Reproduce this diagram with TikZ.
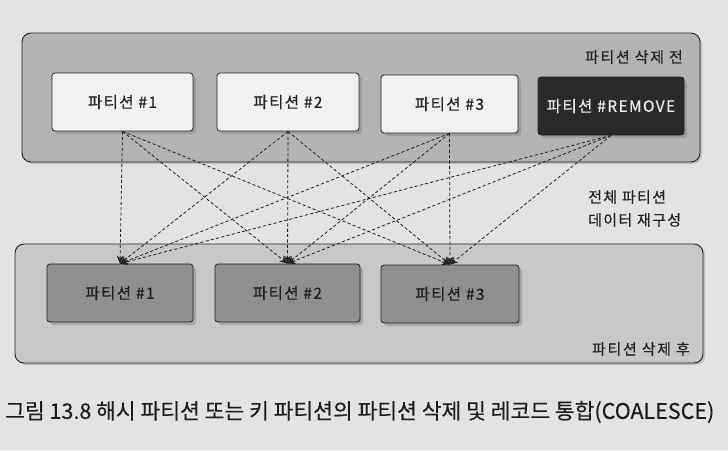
\documentclass[tikz,border=0pt]{standalone}
\usepackage{fontspec}
\setmainfont{Noto Sans CJK KR}
\usetikzlibrary{arrows.meta,shadows}
\definecolor{paper}{HTML}{E3E3E1}
\definecolor{outerA}{HTML}{B3B3B2}
\definecolor{outerB}{HTML}{C8C8C7}
\definecolor{innerA}{HTML}{F1F1F0}
\definecolor{innerRem}{HTML}{2A2A2A}
\definecolor{innerB}{HTML}{8F8F8E}
\definecolor{ink}{HTML}{222222}
\tikzset{
  grp/.style={draw=ink, line width=0.9pt, rounded corners=9pt,
    drop shadow={opacity=0.35, shadow xshift=2pt, shadow yshift=-2pt}},
  partbox/.style={draw=ink, line width=0.8pt, rounded corners=3pt,
    minimum height=58pt, inner sep=0pt,
    font=\fontsize{15.5}{18}\selectfont\addfontfeature{LetterSpace=9,FakeBold=0.5},
    drop shadow={opacity=0.45, shadow xshift=3pt, shadow yshift=-3pt}},
  topbox/.style={partbox, fill=innerA, text=ink},
  rembox/.style={partbox, fill=innerRem, text=white!92!black},
  botbox/.style={partbox, fill=innerB, text=ink!90!black},
  lbl/.style={font=\fontsize{15}{18}\selectfont\addfontfeature{LetterSpace=11,FakeBold=0.4}, text=ink, inner sep=0pt},
  link/.style={draw=ink, line width=0.8pt, dash pattern=on 3.2pt off 2.2pt,
    -{Stealth[length=8pt,width=7pt]}}
}
\begin{document}
\begin{tikzpicture}[x=1pt,y=-1pt]
\fill[paper] (0,0) rectangle (728,450);
\useasboundingbox (0,0) rectangle (728,450);
% groups
\path[grp, fill=outerA] (22,33) rectangle (700,162);
\path[grp, fill=outerB] (15,244) rectangle (703,363);
% top partitions
\node[topbox, minimum width=141pt] (t1) at (122.5,102) {파티션 \#1};
\node[topbox, minimum width=142pt] (t2) at (288,102) {파티션 \#2};
\node[topbox, minimum width=137pt] (t3) at (449.5,104) {파티션 \#3};
\node[rembox, minimum width=146pt] (t4) at (611,106) {파티션 \#REMOVE};
% bottom partitions
\node[botbox, minimum width=146pt] (b1) at (120,293) {파티션 \#1};
\node[botbox, minimum width=145pt] (b2) at (287.5,293) {파티션 \#2};
\node[botbox, minimum width=138pt] (b3) at (450,294) {파티션 \#3};
% labels
\node[lbl, anchor=east] (ltop) at (683,57) {파티션 삭제 전};
\node[lbl, anchor=east] (lbot) at (690,349) {파티션 삭제 후};
\node[lbl, anchor=north west, align=left, font=\fontsize{15}{23}\selectfont\addfontfeature{LetterSpace=9,FakeBold=0.4}] (lmid) at (588,190) {전체 파티션\\데이터 재구성};
% connectors
\foreach \s in {t1,t2,t3,t4}{
  \foreach \d in {b1,b2,b3}{
    \draw[link] (\s.south) -- (\d.north);
  }
}
% caption
\node[anchor=west, inner sep=0pt, text=ink!85!black, font=\fontsize{21.5}{24}\selectfont\addfontfeature{FakeBold=0.3}] (cap) at (5,412) {그림 13.8 해시 파티션 또는 키 파티션의 파티션 삭제 및 레코드 통합(COALESCE)};
\end{tikzpicture}
\end{document}
